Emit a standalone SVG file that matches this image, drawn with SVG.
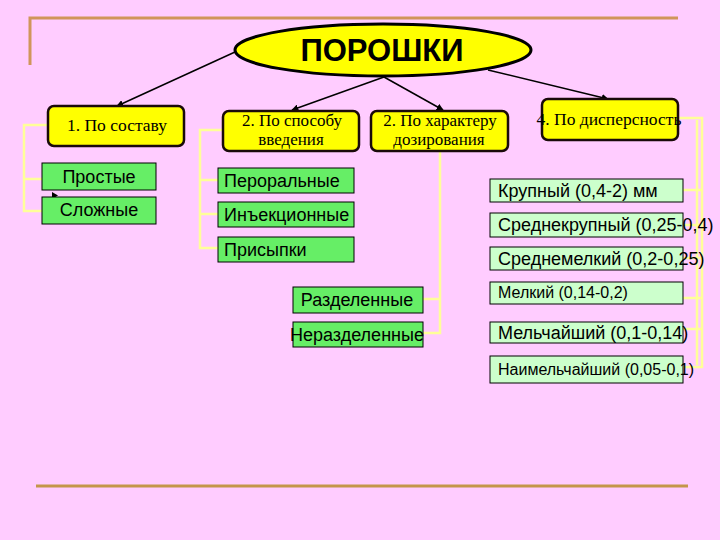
<svg xmlns="http://www.w3.org/2000/svg" width="720" height="540" viewBox="0 0 720 540">
<defs>
<marker id="ah" viewBox="0 0 10 10" refX="9" refY="5" markerWidth="7" markerHeight="7" markerUnits="userSpaceOnUse" orient="auto">
<path d="M0,0 L10,5 L0,10 z" fill="#000"/>
</marker>
<style>
.frame{stroke:#D0955A;stroke-width:3;fill:none}
.frame2{stroke:#C4954A;stroke-width:3;fill:none}
.arrow{stroke:#000;stroke-width:1.5;fill:none;marker-end:url(#ah)}
.br{stroke:#FFFF99;stroke-width:2.5;fill:none}
.ybox{fill:#FFFF00;stroke:#1a0a0a;stroke-width:2.5}
.gbox{fill:#66EE66;stroke:#000;stroke-width:1}
.lbox{fill:#CCFFCC;stroke:#000;stroke-width:1}
.ser{font-family:"Liberation Serif",serif;font-size:17.5px;fill:#000;text-anchor:middle}
.ser2{font-family:"Liberation Serif",serif;font-size:17px;fill:#000;text-anchor:middle}
.san{font-family:"Liberation Sans",Arial,sans-serif;font-size:18px;fill:#000}
.sm{font-size:16px}
.mid{text-anchor:middle}
</style>
</defs>
<rect width="720" height="540" fill="#FFCCFF"/>
<path class="frame" d="M30,65 V18 H678"/>
<path class="frame2" d="M36,486 H688"/>

<g id="connectors">
<line class="arrow" x1="235" y1="52" x2="117" y2="106"/>
<line class="arrow" x1="384" y1="77" x2="292" y2="110"/>
<line class="arrow" x1="384" y1="77" x2="443" y2="110"/>
<line class="arrow" x1="488" y1="70" x2="608" y2="99"/>
<path class="br" d="M48,125 H24 V211 H42 M24,179 H42"/>
<path class="br" d="M223,130 H200 V248 H218 M200,180 H218 M200,214 H218"/>
<path class="br" d="M440,151 V333 H423 M440,299 H423"/>
<path class="br" d="M678,118 H702 V367 H683 M702,190 H683 M702,225 H683 M702,258 H683 M702,298 H683 M702,329 H683"/>
<path class="br" d="M697,120 V365" stroke-width="1.2"/>
<path d="M52,192 L58,195.5 L52,199 z" fill="#000"/>
</g>

<g id="root">
<ellipse cx="383" cy="50" rx="148" ry="26" fill="#FFFF00" stroke="#000" stroke-width="3"/>
<text x="382" y="61" font-family="Liberation Sans,Arial,sans-serif" font-size="31" font-weight="bold" text-anchor="middle">ПОРОШКИ</text>
</g>

<g id="n1">
<rect class="ybox" x="48" y="106" width="136" height="40" rx="6"/>
<text class="ser" x="117" y="131">1. По составу</text>
</g>
<g id="n2">
<rect class="ybox" x="223" y="111" width="136" height="40" rx="6"/>
<text class="ser2" x="292" y="126">2. По способу</text>
<text class="ser2" x="291" y="145">введения</text>
</g>
<g id="n3">
<rect class="ybox" x="371" y="111" width="137" height="40" rx="6"/>
<text class="ser2" x="440" y="126">2. По характеру</text>
<text class="ser2" x="439" y="145">дозирования</text>
</g>
<g id="n4">
<rect class="ybox" x="542" y="99" width="136" height="41" rx="6"/>
<text class="ser" x="609" y="125">4. По дисперсность</text>
</g>

<g id="n1a"><rect class="gbox" x="42" y="163" width="114" height="27"/><text class="san mid" x="99" y="183">Простые</text></g>
<g id="n1b"><rect class="gbox" x="42" y="197" width="114" height="27"/><text class="san mid" x="99" y="216">Сложные</text></g>

<g id="n2a"><rect class="gbox" x="218" y="168" width="136" height="25"/><text class="san" x="224" y="187">Пероральные</text></g>
<g id="n2b"><rect class="gbox" x="218" y="202" width="136" height="25"/><text class="san" x="224" y="221">Инъекционные</text></g>
<g id="n2c"><rect class="gbox" x="218" y="237" width="136" height="25"/><text class="san" x="224" y="256">Присыпки</text></g>

<g id="n3a"><rect class="gbox" x="293" y="287" width="130" height="26"/><text class="san mid" x="357" y="306">Разделенные</text></g>
<g id="n3b"><rect class="gbox" x="293" y="322" width="130" height="25"/><text class="san mid" x="357" y="341">Неразделенные</text></g>

<g id="n4a"><rect class="lbox" x="490" y="179" width="193" height="23"/><text class="san" x="498" y="197">Крупный  (0,4-2) мм</text></g>
<g id="n4b"><rect class="lbox" x="490" y="213" width="193" height="24"/><text class="san" x="498" y="231">Среднекрупный (0,25-0,4)</text></g>
<g id="n4c"><rect class="lbox" x="490" y="247" width="193" height="23"/><text class="san" x="498" y="265">Среднемелкий (0,2-0,25)</text></g>
<g id="n4d"><rect class="lbox" x="490" y="282" width="193" height="22"/><text class="san sm" x="498" y="298">Мелкий (0,14-0,2)</text></g>
<g id="n4e"><rect class="lbox" x="490" y="322" width="193" height="21"/><text class="san" x="498" y="339">Мельчайший (0,1-0,14)</text></g>
<g id="n4f"><rect class="lbox" x="490" y="356" width="193" height="27"/><text class="san sm" x="498" y="375">Наимельчайший (0,05-0,1)</text></g>
</svg>
